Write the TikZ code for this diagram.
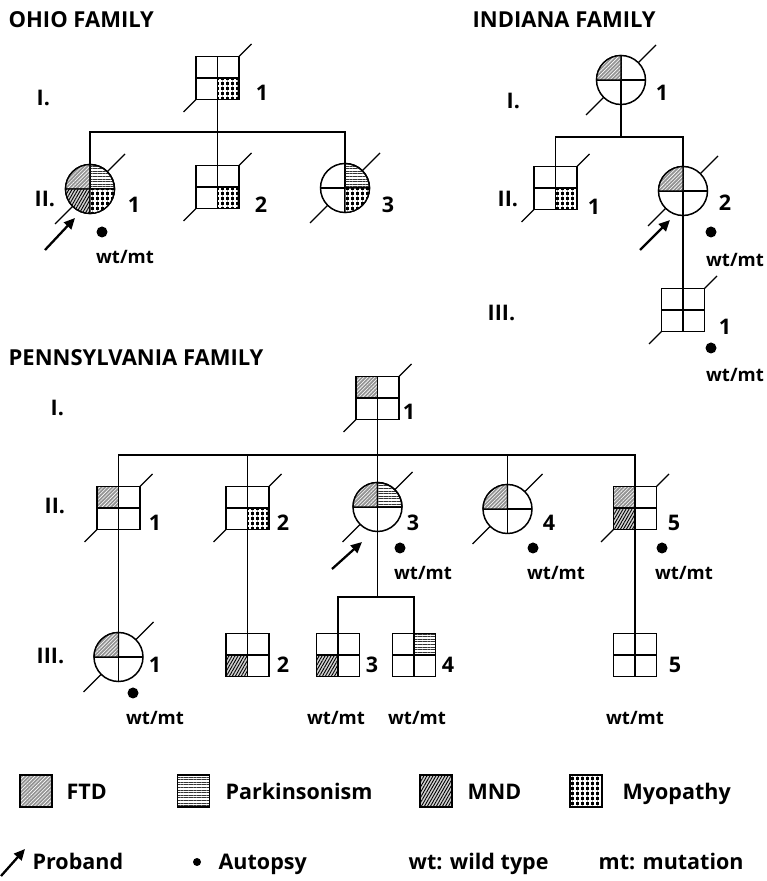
\documentclass[tikz,border=0pt]{standalone}
\usepackage{fontspec}
\setmainfont{Open Sans}
\usetikzlibrary{arrows.meta, patterns.meta, backgrounds}

% quadrant of a square / of a circle, filled with a trait style
\newcommand{\qsq}[3]{\draw[#3] (#1.center) rectangle (#1.#2);}
\newcommand{\qci}[3]{\draw[#3] (#1.center) -- ++(#2:24.5)
  arc[start angle=#2, delta angle=90, radius=24.5] -- cycle;}
% deceased stroke
\newcommand{\deceased}[2][34]{\draw[dline] ([shift={(-#1,-#1)}]#2.center)
  -- ([shift={(#1,#1)}]#2.center);}

\begin{document}
\begin{tikzpicture}[x=1pt, y=1pt, line width=1.3pt,
    sym/.style={draw, fill=white, line width=1.5pt, inner sep=0pt, outer sep=0pt,
      path picture={\draw[line width=1.3pt]
        (path picture bounding box.north) -- (path picture bounding box.south)
        (path picture bounding box.west) -- (path picture bounding box.east);}},
    sq/.style={sym, rectangle, minimum size=43pt},
    ci/.style={sym, circle, minimum size=49pt},
    dline/.style={line width=1.3pt},
    num/.style={font=\fontsize{21.5}{24}\selectfont\bfseries, inner sep=0pt},
    gen/.style={num, anchor=west},
    title/.style={font=\fontsize{22}{26}\selectfont\bfseries, anchor=west, inner sep=0pt},
    gt/.style={font=\fontsize{18.5}{22}\selectfont\bfseries, inner sep=0pt},
    dot/.style={circle, fill, inner sep=0pt, minimum size=11pt},
    proband/.style={-{Triangle[length=11pt, width=10pt]}, line width=2.3pt},
    key/.style={font=\fontsize{21.5}{26}\selectfont\bfseries, anchor=base west, inner sep=0pt},
    keybox/.style={draw, line width=1.2pt, minimum size=32pt, inner sep=0pt},
    ftd/.style={preaction={fill=gray!85}, pattern={Lines[angle=45, distance=2.6pt, line width=0.6pt]}, pattern color=white},
    park/.style={pattern={Lines[angle=0, distance=2.6pt, line width=0.9pt]}, pattern color=black!80},
    mnd/.style={preaction={fill=gray!35}, pattern={Lines[angle=60, distance=2.6pt, line width=0.9pt]}, pattern color=black},
    myo/.style={preaction={fill=black}, pattern={Hatch[angle=0, distance=5pt, line width=1.2pt]}, pattern color=white}]

  \useasboundingbox (0,0) rectangle (767,881);

  % ---- Ohio family
  \node[title] (tOhio) at (8,861) {OHIO FAMILY};
  \node[gen] (oG1) at (36,783) {I.};
  \node[gen] (oG2) at (34,682) {II.};

  \node[sq] (oI1)  at (217.5,803) {};
  \node[ci] (oII1) at (90,692)    {};
  \node[sq] (oII2) at (217.5,694) {};
  \node[ci] (oII3) at (345,693)   {};

  \qsq{oI1}{south east}{myo}
  \qci{oII1}{90}{ftd} \qci{oII1}{0}{park} \qci{oII1}{180}{mnd} \qci{oII1}{270}{myo}
  \qsq{oII2}{south east}{myo}
  \qci{oII3}{0}{park} \qci{oII3}{270}{myo}

  \node[num] (oI1-n)  at (262,788) {1};
  \node[num] (oII1-n) at (134,676) {1};
  \node[num] (oII2-n) at (261,676) {2};
  \node[num] (oII3-n) at (388,676) {3};

  \coordinate (oBar) at (0,749);
  \draw (oI1.south) -- (oII2.north);
  \draw (oII1.north) |- (oI1 |- oBar) -| (oII3.north);

  \coordinate (oPb) at (45,631);
  \draw[proband] (oPb) -- ++(30,32);
  \node[dot] (oII1-d) at (102,649) {};
  \node[gt] (oII1-g) at (125,624) {wt/mt};

  % ---- Indiana family
  \node[title] (tInd) at (472,861) {INDIANA FAMILY};
  \node[gen] (iG1) at (506,780) {I.};
  \node[gen] (iG2) at (497,682) {II.};
  \node[gen] (iG3) at (487,568) {III.};

  \node[ci] (iI1)   at (621,801)   {};
  \node[sq] (iII1)  at (555.5,693) {};
  \node[ci] (iII2)  at (683,690)   {};
  \node[sq] (iIII1) at (683,571)   {};

  \qci{iI1}{90}{ftd}
  \qsq{iII1}{south east}{myo}
  \qci{iII2}{90}{ftd}

  \node[num] (iI1-n)   at (662,788) {1};
  \node[num] (iII1-n)  at (594,674) {1};
  \node[num] (iII2-n)  at (725,678) {2};
  \node[num] (iIII1-n) at (725,554) {1};

  \coordinate (iBar) at (0,744);
  \draw (iI1.south) -- (iI1 |- iBar);
  \draw (iII1.north) |- (iI1 |- iBar) -| (iII2.north);
  \draw (iII2.south) -- (iIII1.north);

  \coordinate (iPb) at (640,631);
  \draw[proband] (iPb) -- ++(30,30);
  \node[dot] (iII2-d)  at (711,649) {};
  \node[gt]  (iII2-g)  at (735,621) {wt/mt};
  \node[dot] (iIII1-d) at (711,533) {};
  \node[gt]  (iIII1-g) at (735,506) {wt/mt};

  % ---- Pennsylvania family
  \node[title] (tPen) at (8,523) {PENNSYLVANIA FAMILY};
  \node[gen] (pG1) at (50,473) {I.};
  \node[gen] (pG2) at (44,375) {II.};
  \node[gen] (pG3) at (36,225) {III.};

  \node[sq] (pI1)  at (377.5,483) {};
  \node[sq] (pII1) at (118.5,373) {};
  \node[sq] (pII2) at (247.5,373) {};
  \node[ci] (pII3) at (377.5,374) {};
  \node[ci] (pII4) at (507.5,372) {};
  \node[sq] (pII5) at (635,373)   {};
  \node[ci] (pIII1) at (118.5,224) {};
  \node[sq] (pIII2) at (247.5,226) {};
  \node[sq] (pIII3) at (338,226)   {};
  \node[sq] (pIII4) at (414,226)   {};
  \node[sq] (pIII5) at (635,226)   {};

  \qsq{pI1}{north west}{ftd}
  \qsq{pII1}{north west}{ftd}
  \qsq{pII2}{south east}{myo}
  \qci{pII3}{90}{ftd} \qci{pII3}{0}{park}
  \qci{pII4}{90}{ftd}
  \qsq{pII5}{north west}{ftd} \qsq{pII5}{south west}{mnd}
  \qci{pIII1}{90}{ftd}
  \qsq{pIII2}{south west}{mnd}
  \qsq{pIII3}{south west}{mnd}
  \qsq{pIII4}{north east}{park}

  \node[num] (pI1-n)   at (409,469) {1};
  \node[num] (pII1-n)  at (155,358) {1};
  \node[num] (pII2-n)  at (283,358) {2};
  \node[num] (pII3-n)  at (413,358) {3};
  \node[num] (pII4-n)  at (549,358) {4};
  \node[num] (pII5-n)  at (674,358) {5};
  \node[num] (pIII1-n) at (155,216) {1};
  \node[num] (pIII2-n) at (283,216) {2};
  \node[num] (pIII3-n) at (372,216) {3};
  \node[num] (pIII4-n) at (448,216) {4};
  \node[num] (pIII5-n) at (675,216) {5};

  \coordinate (pBar) at (0,426);
  \coordinate (pBar3) at (0,284);
  \draw (pI1.south) -- (pII3.north);
  \draw (pII1.north) |- (pII3 |- pBar) -| (pII5.north);
  \draw (pII2.north) -- (pII2 |- pBar);
  \draw (pII4.north) -- (pII4 |- pBar);
  \draw (pII1.south) -- (pIII1.north);
  \draw (pII2.south) -- (pIII2.north);
  \draw (pII5.south) -- (pIII5.north);
  \draw (pII3.south) -- (pII3 |- pBar3);
  \draw (pIII3.north) |- (pII3 |- pBar3) -| (pIII4.north);

  \coordinate (pPb) at (332,312);
  \draw[proband] (pPb) -- ++(30,27);
  \node[dot] (pII3-d) at (400,333) {};
  \node[dot] (pII4-d) at (533,333) {};
  \node[dot] (pII5-d) at (662,333) {};
  \node[gt] (pII3-g) at (423,308) {wt/mt};
  \node[gt] (pII4-g) at (556,308) {wt/mt};
  \node[gt] (pII5-g) at (684,308) {wt/mt};
  \node[dot] (pIII1-d) at (133,188) {};
  \node[gt] (pIII1-g) at (155,163) {wt/mt};
  \node[gt] (pIII3-g) at (336,163) {wt/mt};
  \node[gt] (pIII4-g) at (417,163) {wt/mt};
  \node[gt] (pIII5-g) at (635,163) {wt/mt};

  % ---- key
  \node[keybox, ftd]  (kFtd)  at (36,90)    {};
  \node[keybox, park] (kPark) at (193.5,90) {};
  \node[keybox, mnd]  (kMnd)  at (436,90)   {};
  \node[keybox, myo]  (kMyo)  at (586,90)   {};
  \node[key] (kFtd-t)  at (66,81)  {FTD};
  \node[key] (kPark-t) at (225,81) {Parkinsonism};
  \node[key] (kMnd-t)  at (467,81) {MND};
  \node[key] (kMyo-t)  at (622,81) {Myopathy};

  \coordinate (kPb) at (1,5);
  \draw[proband] (kPb) -- ++(24,27);
  \node[key] (kPb-t) at (32,12) {Proband};
  \node[dot, minimum size=8pt] (kDot) at (197,19) {};
  \node[key] (kDot-t) at (218,12) {Autopsy};
  \node[key] (kWt) at (408,12) {wt: wild type};
  \node[key] (kMt) at (598,12) {mt: mutation};

  \begin{pgfonlayer}{background}
    \fill[white] (0,0) rectangle (767,881);
    \deceased{oI1} \deceased[35]{oII1} \deceased{oII2} \deceased[35]{oII3}
    \deceased[35]{iI1} \deceased{iII1} \deceased[35]{iII2} \deceased{iIII1}
    \deceased{pI1} \deceased{pII1} \deceased{pII2} \deceased[35]{pII3}
    \deceased[35]{pII4} \deceased{pII5} \deceased[35]{pIII1}
  \end{pgfonlayer}
\end{tikzpicture}
\end{document}
